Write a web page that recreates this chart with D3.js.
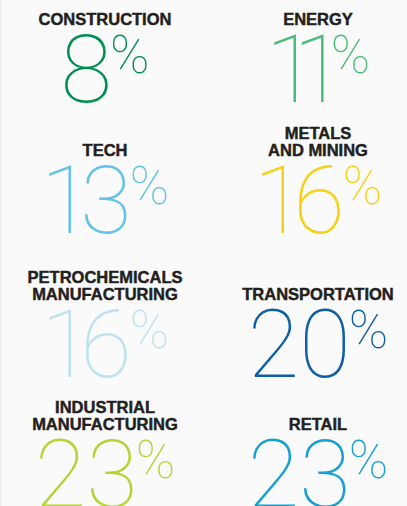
<!DOCTYPE html>
<html>
<head>
<meta charset="utf-8">
<script src="https://cdn.jsdelivr.net/npm/d3@7"></script>
<style>
  html, body { margin: 0; padding: 0; background: #fafafa; }
  svg { display: block; }
</style>
</head>
<body>
<div id="vis"></div>
<script>
// data
const sectors = [
  ['CONSTRUCTION'],
  ['ENERGY'],
  ['TECH'],
  ['METALS', 'AND MINING'],
  ['PETROCHEMICALS', 'MANUFACTURING'],
  ['TRANSPORTATION'],
  ['INDUSTRIAL', 'MANUFACTURING'],
  ['RETAIL']
];
const shares = [8, 11, 13, 16, 16, 20, 23, 23];
const colors = ['#008f52', '#4cbd78', '#62c3e6', '#f7d117', '#bee3ef', '#0d5fa6', '#b6d437', '#14a0d2'];

const width = 407;
const height = 506;

const digitSize = 94;
const pctSize = 53;
const labelSize = 16.5;
const lineGap = 16.5;
const oneTrim = 12; // the reference face has a narrow "1"

const svg = d3.select('#vis')
  .append('svg')
  .attr('width', width)
  .attr('height', height);

svg.append('rect')
  .attr('width', 2)
  .attr('height', height)
  .attr('fill', '#f0f0f0');

const x = d3.scaleOrdinal()
  .domain([0, 1])
  .range([105, 318]);

// baseline of the big number for each row
const y = d3.scaleOrdinal()
  .domain([0, 1, 2, 3])
  .range([102, 233, 377, 507]);

const nodes = sectors.map((lines, i) => ({
  lines: lines,
  value: shares[i],
  color: colors[i],
  col: i % 2,
  row: Math.floor(i / 2)
}));

function digits(d) {
  const chars = String(d.value).split('');
  return chars.map((c, i) => {
    let dx = 0;
    if (c === '1' && i > 0) dx -= oneTrim;
    if (i > 0 && chars[i - 1] === '1') dx -= oneTrim;
    return { c: c, dx: dx };
  });
}

const cells = svg.selectAll('.cell')
  .data(nodes)
  .enter().append('g')
  .attr('class', 'cell')
  .attr('transform', (d) => `translate(${x(d.col)},${y(d.row)})`);

const nums = cells.append('text')
  .attr('text-anchor', 'middle')
  .attr('fill', (d) => d.color)
  .style('font-family', 'Roboto, Inter, Lato, sans-serif')
  .style('font-weight', 100);

nums.selectAll('.digit')
  .data(digits)
  .enter().append('tspan')
  .attr('class', 'digit')
  .attr('dx', (c) => c.dx)
  .style('font-size', digitSize + 'px')
  .text((c) => c.c);

nums.append('tspan')
  .attr('dx', (d) => String(d.value).endsWith('1') ? -2 - oneTrim : -2)
  .attr('dy', -29)
  .style('font-size', pctSize + 'px')
  .text('%');

// labels sit above the digits, last line at a fixed gap
cells.each(function (d) {
  const g = d3.select(this);
  const n = d.lines.length;
  g.selectAll('.label')
    .data(d.lines)
    .enter().append('text')
    .attr('class', 'label')
    .attr('text-anchor', 'middle')
    .attr('y', (t, j) => -digitSize * 0.715 - 10 - (n - 1 - j) * lineGap)
    .attr('fill', '#231f20')
    .attr('stroke', '#231f20')
    .attr('stroke-width', 0.45)
    .style('font-family', '"Liberation Sans", Arial, sans-serif')
    .style('font-weight', 700)
    .style('font-size', labelSize + 'px')
    .text((t) => t);
});
</script>
</body>
</html>
